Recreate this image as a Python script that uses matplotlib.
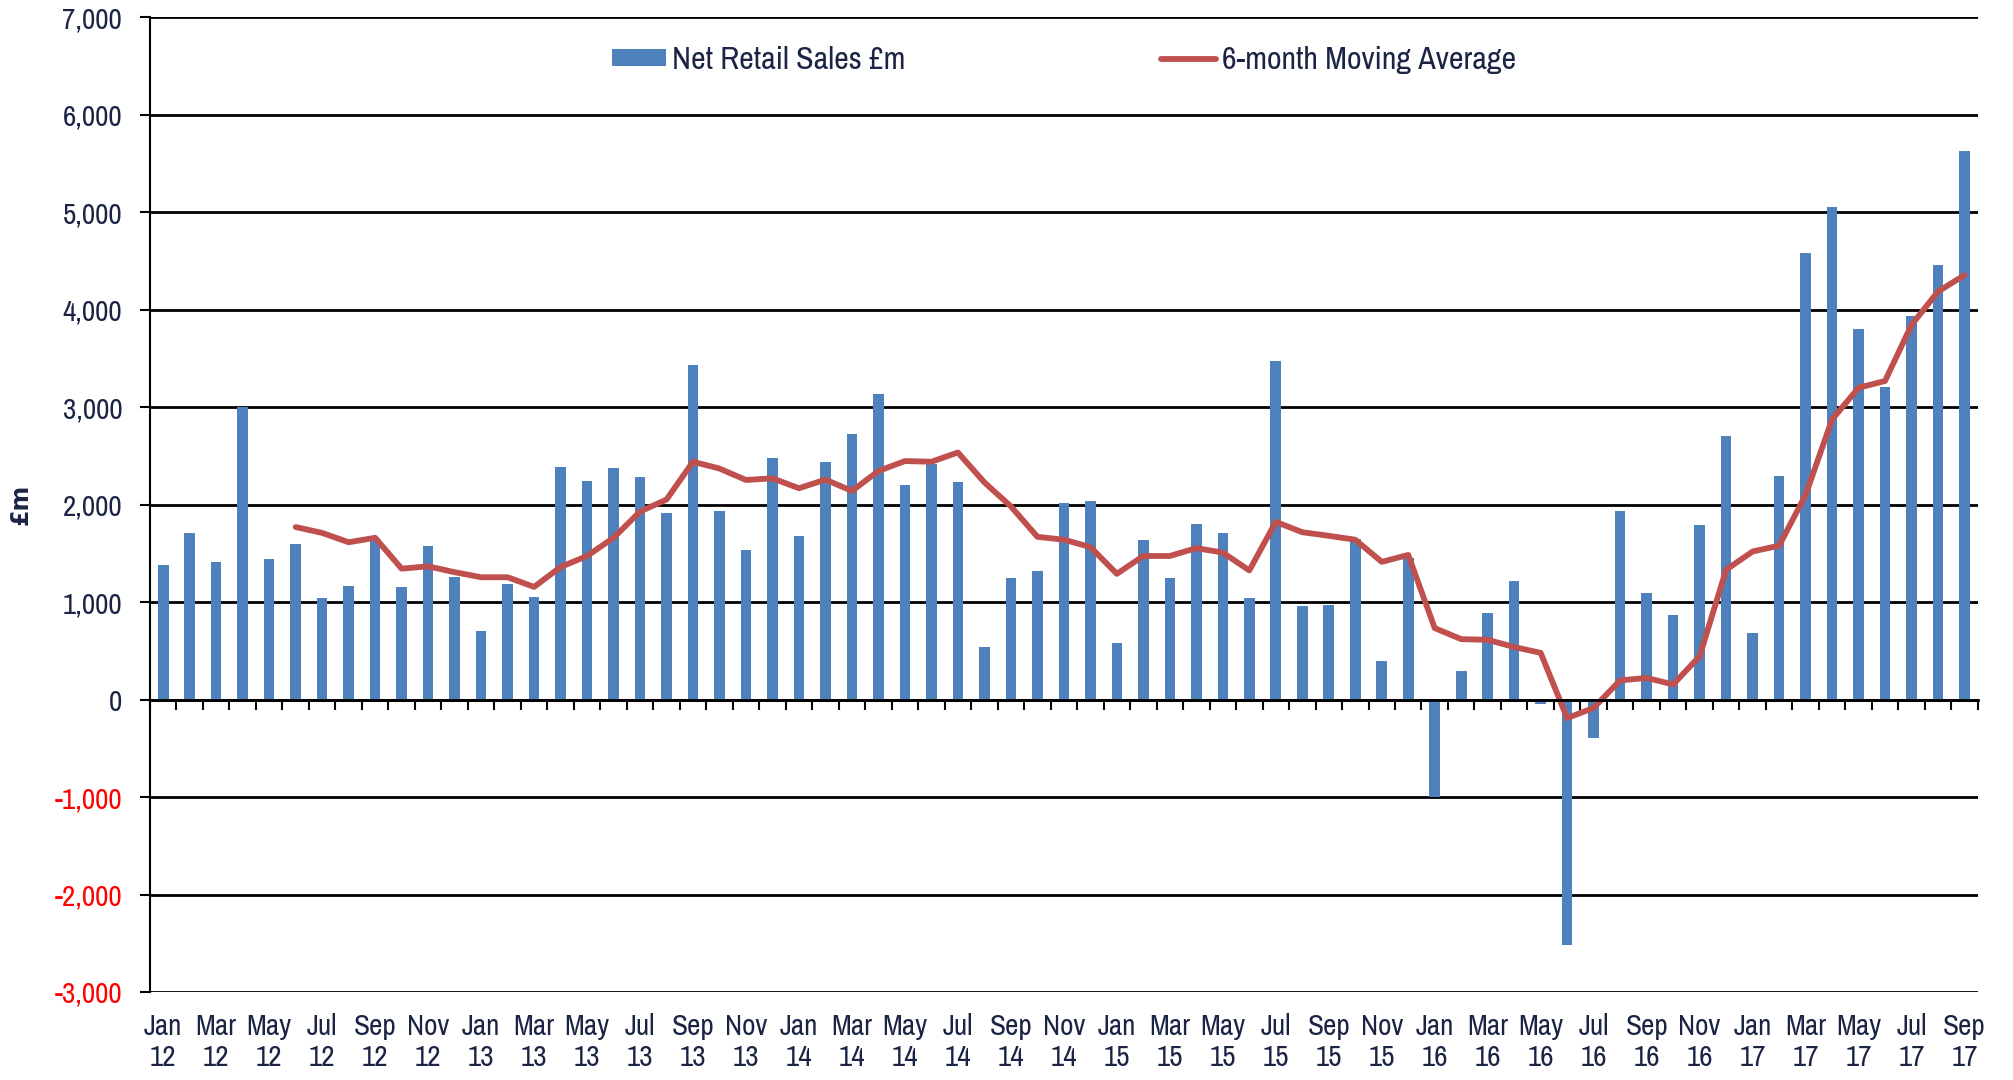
import matplotlib
matplotlib.use("Agg")
import matplotlib.pyplot as plt
from matplotlib import font_manager
import numpy as np

# monthly data, Jan 2012 - Sep 2017
months = ["Jan", "Feb", "Mar", "Apr", "May", "Jun",
          "Jul", "Aug", "Sep", "Oct", "Nov", "Dec"]
years = ["12", "13", "14", "15", "16", "17"]
labels = [f"{m}\n{y}" for y in years for m in months][:69]

net_sales = [
    1380, 1707, 1415, 3000, 1445, 1595, 1040, 1165, 1655, 1160, 1575, 1260,
    700, 1190, 1055, 2388, 2240, 2375, 2280, 1915, 3430, 1930, 1535, 2475,
    1675, 2440, 2728, 3135, 2198, 2415, 2228, 540, 1245, 1320, 2020, 2034,
    580, 1635, 1250, 1805, 1707, 1038, 3470, 960, 975, 1645, 396, 1450,
    -995, 295, 893, 1220, -45, -2520, -395, 1935, 1090, 864, 1795, 2705,
    688, 2295, 4583, 5050, 3798, 3210, 3935, 4458, 5632,
]

# 6-month moving average, from Jun 12
moving_avg = [
    1770, 1710, 1614, 1660, 1343, 1367, 1307,
    1255, 1255, 1156, 1360, 1473, 1660, 1929, 2052, 2440, 2370, 2253, 2270,
    2168, 2257, 2140, 2345, 2447, 2440, 2535, 2228, 1982, 1670, 1640, 1565,
    1290, 1473, 1473, 1554, 1508, 1325, 1823, 1717, 1680, 1640, 1413, 1484,
    733, 620, 613, 539, 479, -190, -85, 197, 222, 155, 444, 1332,
    1519, 1579, 2099, 2874, 3199, 3269, 3844, 4186, 4355,
]

navy = "#1b2445"

# look for a narrow face (reference uses a condensed font)
narrow = None
stretch = "normal"
for f in font_manager.fontManager.ttflist:
    if "Narrow" in f.name and f.style == "normal":
        narrow = f.name
        break
if narrow is None:
    for f in font_manager.fontManager.ttflist:
        if f.stretch in ("condensed", "semi-condensed", 500) or "Condensed" in f.fname:
            narrow = f.name
            stretch = "condensed"
            break
if narrow is None:
    narrow = "DejaVu Sans"
plt.rcParams["font.family"] = [narrow, "DejaVu Sans"]
plt.rcParams["font.stretch"] = stretch

fs = 21

fig = plt.figure(figsize=(20.13, 10.8), dpi=100)
ax = fig.add_axes([0.0745, 0.0815, 0.908, 0.9025])

x = np.arange(len(net_sales))
ma_x = x[len(x) - len(moving_avg):]

bars = ax.bar(x, net_sales, width=0.4, color="#4f81bd", zorder=2)
line, = ax.plot(ma_x, moving_avg, color="#c0504d", linewidth=4.2, zorder=3,
                solid_joinstyle="round", solid_capstyle="round")

ax.set_xlim(-0.5, len(x) - 0.5)
ax.set_ylim(-3000, 7000)
ax.set_yticks(np.arange(-3000, 7001, 1000))
ax.set_yticklabels([f"{v:,}" for v in range(-3000, 7001, 1000)])
for t, v in zip(ax.get_yticklabels(), range(-3000, 7001, 1000)):
    t.set_color("red" if v < 0 else navy)
ax.tick_params(axis="y", length=7, width=1.5, pad=13, labelsize=fs)
ax.grid(axis="y", color="black", linewidth=2, zorder=1)
ax.set_axisbelow(True)

for s in ["top", "right"]:
    ax.spines[s].set_visible(False)
ax.spines["left"].set_linewidth(1.5)
ax.spines["bottom"].set_position(("data", 0))
ax.spines["bottom"].set_linewidth(2)
ax.spines["bottom"].set_zorder(4)

# tick marks between categories on the zero line
ax.set_xticks(np.arange(-0.5, len(x), 1))
ax.tick_params(axis="x", length=7, width=1.5, labelbottom=False)

sec = ax.secondary_xaxis("bottom")
sec.set_xticks(x[::2], labels[::2])
sec.tick_params(length=0, pad=15, labelsize=fs, labelcolor=navy)
sec.spines["bottom"].set_visible(False)
for t in sec.get_xticklabels():
    t.set_linespacing(1.2)

ax.set_ylabel("£m", fontsize=17, fontweight="bold", color=navy,
              family=["DejaVu Sans"], fontstretch="normal")
ax.yaxis.set_label_coords(-0.064, 0.5)

ax.legend([bars, line], ["Net Retail Sales £m", "6-month Moving Average"],
          loc="upper center", bbox_to_anchor=(0.5, 1.0), ncol=2,
          frameon=False, fontsize=23, labelcolor=navy, columnspacing=8,
          handlelength=1.7, handletextpad=0.2, handleheight=0.45)

fig.savefig("out.png", dpi=100)
